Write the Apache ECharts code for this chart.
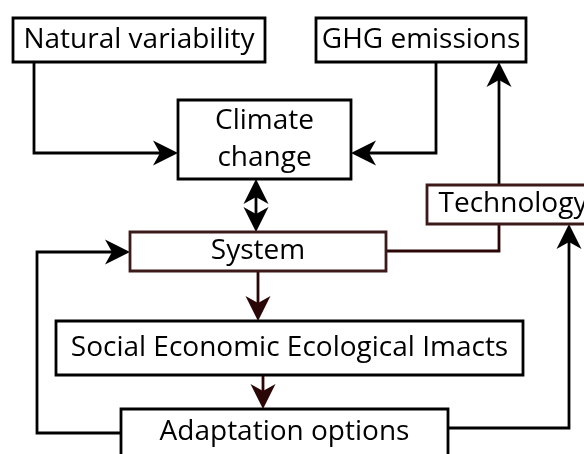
<!DOCTYPE html>
<html>
<head>
<meta charset="utf-8">
<script src="https://cdn.jsdelivr.net/npm/echarts@6/dist/echarts.min.js"></script>
<style>
  html, body { margin: 0; padding: 0; background: #fff; }
  #myChart { width: 584px; height: 454px; }
</style>
</head>
<body>
<div id="myChart"></div>
<script>
// boxes of the flow diagram, in diagram units (y grows downwards)
const boxNames = ['Natural variability', 'GHG emissions', 'Climate\nchange', 'Technology', 'System', 'Social Economic Ecological Imacts', 'Adaptation options'];
const boxX0 = [13, 316, 178, 427, 130, 56, 121];
const boxX1 = [265, 526, 351, 599, 386, 523, 448];
const boxY0 = [18, 18, 100, 185, 232, 321, 409];
const boxY1 = [62, 62, 179, 224, 271, 375, 456];

// connectors: polyline points, and which ends carry an arrow head
const blackLinks = [
  [[34, 62], [34, 153], [178, 153]],
  [[436, 62], [436, 153], [351, 153]],
  [[499, 185], [499, 62]],
  [[256, 179], [256, 232]],
  [[121, 433], [37, 433], [37, 252], [130, 252]],
  [[448, 428], [569, 428], [569, 224]]
];
const blackHeads = ['end', 'end', 'end', 'both', 'end', 'end'];
const brownLinks = [
  [[386, 251], [499, 251], [499, 224]],
  [[258, 271], [258, 321]],
  [[263, 375], [263, 409]]
];
const brownHeads = ['none', 'end', 'end'];

const brownBoxes = ['System', 'Technology'];
const HEAD_LEN = 25;
const HEAD_HALF = 12.5;

const myChart = echarts.init(document.getElementById('myChart'));

const arrowHead = (tip, from) => {
  const dx = tip[0] - from[0];
  const dy = tip[1] - from[1];
  const d = Math.sqrt(dx * dx + dy * dy) || 1;
  const ux = dx / d, uy = dy / d;
  const bx = tip[0] - ux * HEAD_LEN, by = tip[1] - uy * HEAD_LEN;
  const nx = tip[0] - ux * HEAD_LEN * 0.72, ny = tip[1] - uy * HEAD_LEN * 0.72;
  return [
    tip,
    [bx - uy * HEAD_HALF, by + ux * HEAD_HALF],
    [nx, ny],
    [bx + uy * HEAD_HALF, by - ux * HEAD_HALF]
  ];
};

const linkSeries = (links, heads, color) => ({
  type: 'custom',
  coordinateSystem: 'cartesian2d',
  silent: true,
  data: links.map((l) => [l[0][0], l[0][1]]),
  renderItem: (params, api) => {
    const idx = params.dataIndex;
    const pts = links[idx].map((p) => api.coord(p));
    const head = heads[idx];
    const children = [];
    const line = pts.map((p) => p.slice());
    const shorten = (a, b) => {
      const dx = a[0] - b[0], dy = a[1] - b[1];
      const d = Math.sqrt(dx * dx + dy * dy) || 1;
      a[0] -= dx / d * HEAD_LEN * 0.6;
      a[1] -= dy / d * HEAD_LEN * 0.6;
    };
    if (head === 'end' || head === 'both') {
      shorten(line[line.length - 1], line[line.length - 2]);
      children.push({
        type: 'polygon',
        shape: { points: arrowHead(pts[pts.length - 1], pts[pts.length - 2]) },
        style: { fill: color }
      });
    }
    if (head === 'both') {
      shorten(line[0], line[1]);
      children.push({
        type: 'polygon',
        shape: { points: arrowHead(pts[0], pts[1]) },
        style: { fill: color }
      });
    }
    children.unshift({
      type: 'polyline',
      shape: { points: line },
      style: { stroke: color, lineWidth: 2.8, fill: null, lineJoin: 'miter' }
    });
    return { type: 'group', children };
  }
});

const option = {
  animation: false,
  grid: { left: 0, right: 0, top: 0, bottom: 0 },
  xAxis: { type: 'value', min: 0, max: 584, show: false },
  yAxis: { type: 'value', min: 0, max: 454, inverse: true, show: false },
  series: [
    linkSeries(blackLinks, blackHeads, '#000'),
    linkSeries(brownLinks, brownHeads, '#2a0606'),
    {
      type: 'custom',
      coordinateSystem: 'cartesian2d',
      silent: true,
      data: boxNames.map((n, i) => [boxX0[i], boxY0[i], boxX1[i], boxY1[i]]),
      renderItem: (params, api) => {
        const p0 = api.coord([api.value(0), api.value(1)]);
        const p1 = api.coord([api.value(2), api.value(3)]);
        const name = boxNames[params.dataIndex];
        const brown = brownBoxes.indexOf(name) > -1;
        return {
          type: 'group',
          children: [
            {
              type: 'rect',
              shape: { x: p0[0], y: p0[1], width: p1[0] - p0[0], height: p1[1] - p0[1] },
              style: { fill: '#fff', stroke: brown ? '#3d1a1a' : '#000', lineWidth: 2.8 }
            },
            {
              type: 'text',
              style: {
                text: name,
                x: (p0[0] + p1[0]) / 2,
                y: (p0[1] + p1[1]) / 2,
                align: 'center',
                verticalAlign: 'middle',
                fontFamily: 'Open Sans',
                fontSize: 28,
                lineHeight: 37,
                fill: '#000'
              }
            }
          ]
        };
      }
    }
  ]
};

myChart.setOption(option);
</script>
</body>
</html>
